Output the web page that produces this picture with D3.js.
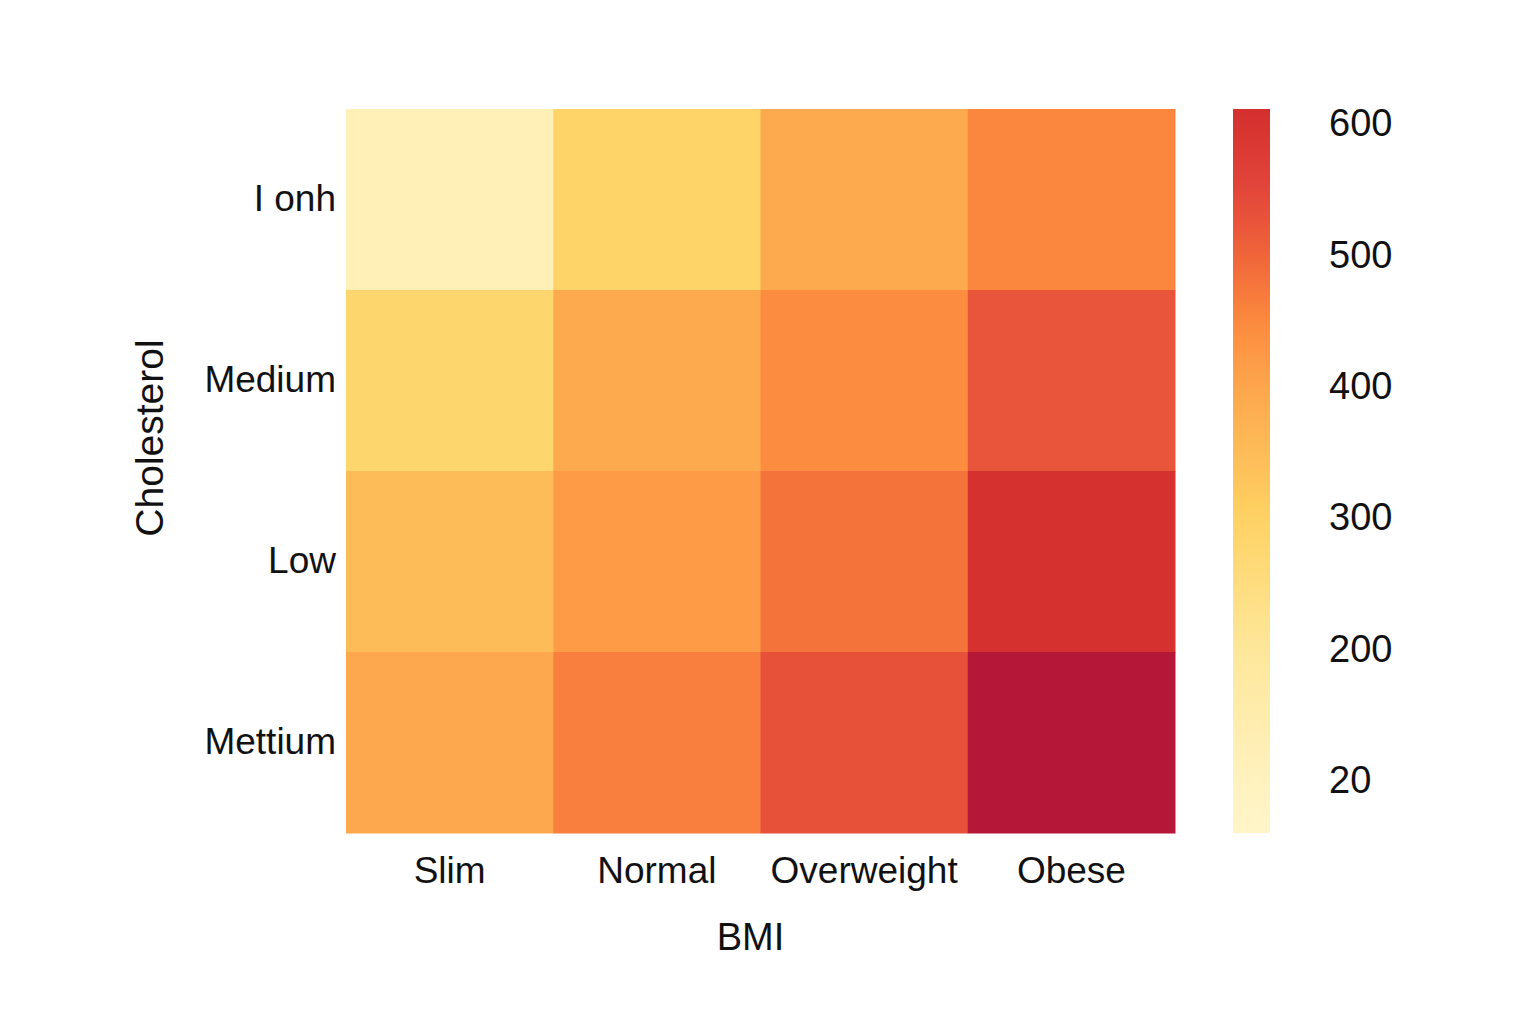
<!DOCTYPE html>
<html>
<head>
<meta charset="utf-8">
<script src="https://cdn.jsdelivr.net/npm/d3@7"></script>
<style>
  body { margin: 0; background: #fff; }
  text { font-family: "Liberation Sans", Arial, sans-serif; fill: #111; }
</style>
</head>
<body>
<div id="chart"></div>
<script>
// data
const bmiCats = ['Slim', 'Normal', 'Overweight', 'Obese'];
const cholCats = ['I onh', 'Medium', 'Low', 'Mettium'];
// one row per cholesterol category, one value per BMI category
const row0 = [120, 290, 390, 455];
const row1 = [280, 390, 445, 525];
const row2 = [350, 420, 480, 605];
const row3 = [395, 465, 530, 700];
const cbTickValues = [600, 500, 400, 300, 200, 100];
const cbTickLabels = ['600', '500', '400', '300', '200', '20'];

const rows = [row0, row1, row2, row3];
const cells = [];
rows.forEach((r, i) => r.forEach((v, j) => cells.push({ chol: cholCats[i], bmi: bmiCats[j], value: v })));

//dimensions
const width = 1536, height = 1024;
const margin = { top: 109, left: 346 };
const graphWidth = 829;
const graphHeight = 724;

const svg = d3.select('#chart')
    .append('svg')
    .attr('width', width)
    .attr('height', height);

const graph = svg.append('g')
    .attr('transform', `translate(${margin.left}, ${margin.top})`);

//scales
const x = d3.scaleBand().domain(bmiCats).range([0, graphWidth]).padding(0);
const y = d3.scaleBand().domain(cholCats).range([0, graphHeight]).padding(0);

// colour ramp picked off the colorbar
const color = d3.scaleLinear()
    .domain([60, 100, 200, 300, 400, 450, 500, 550, 611, 700])
    .range(['#fff5c8', '#fff2bf', '#fee79a', '#fed263', '#fda64d', '#fc8a3e', '#ef6439', '#e2453a', '#d42f2e', '#b41738'])
    .clamp(true);

// cells
graph.selectAll('rect.cell')
    .data(cells)
    .join('rect')
    .attr('class', 'cell')
    .attr('x', d => x(d.bmi))
    .attr('y', d => y(d.chol))
    .attr('width', x.bandwidth() + 0.5)
    .attr('height', y.bandwidth() + 0.5)
    .attr('fill', d => color(d.value));

// axes
const xAxisGroup = graph.append('g')
    .attr('transform', `translate(0, ${graphHeight})`)
    .call(d3.axisBottom(x).tickSize(0).tickPadding(24));

const yAxisGroup = graph.append('g')
    .call(d3.axisLeft(y).tickSize(0).tickPadding(10));

[xAxisGroup, yAxisGroup].forEach(g => {
    g.select('.domain').remove();
    g.selectAll('text').attr('font-size', 37).attr('fill', '#111')
        .attr('font-family', '"Liberation Sans", Arial, sans-serif');
});

// axis titles
graph.append('text')
    .attr('x', graphWidth / 2 - 10)
    .attr('y', graphHeight + 117)
    .attr('text-anchor', 'middle')
    .attr('font-size', 38)
    .text('BMI');

graph.append('text')
    .attr('transform', `translate(${-183}, ${graphHeight / 2 - 33}) rotate(-90)`)
    .attr('text-anchor', 'middle')
    .attr('font-size', 39)
    .text('Cholesterol');

// colorbar
const cbX = 1233, cbW = 37;
const cb = d3.scaleLinear().domain([60, 611]).range([margin.top + graphHeight, margin.top]);

const grad = svg.append('defs').append('linearGradient')
    .attr('id', 'cbGrad')
    .attr('x1', 0).attr('y1', 1).attr('x2', 0).attr('y2', 0);
d3.range(0, 1.0001, 0.05).forEach(t => {
    const v = cb.domain()[0] + t * (cb.domain()[1] - cb.domain()[0]);
    grad.append('stop').attr('offset', t).attr('stop-color', color(v));
});

svg.append('rect')
    .attr('x', cbX)
    .attr('y', margin.top)
    .attr('width', cbW)
    .attr('height', graphHeight)
    .attr('fill', 'url(#cbGrad)');

const cbAxis = svg.append('g')
    .attr('transform', `translate(${cbX + cbW}, 0)`)
    .call(d3.axisRight(cb)
        .tickValues(cbTickValues)
        .tickFormat((d, i) => cbTickLabels[i])
        .tickSize(0)
        .tickPadding(59));
cbAxis.select('.domain').remove();
cbAxis.selectAll('text').attr('font-size', 38).attr('fill', '#111')
    .attr('font-family', '"Liberation Sans", Arial, sans-serif');
</script>
</body>
</html>
